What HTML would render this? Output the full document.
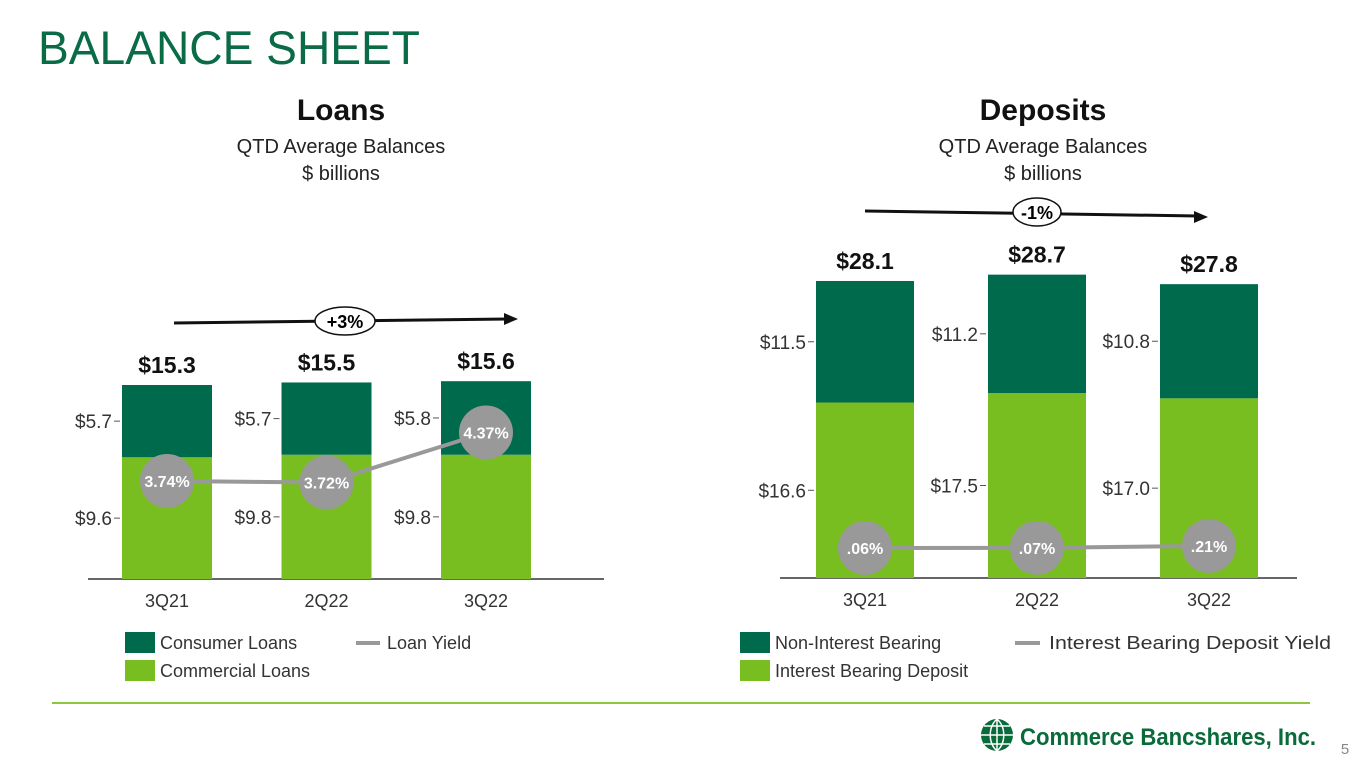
<!DOCTYPE html>
<html><head><meta charset="utf-8"><style>
body{margin:0;width:1365px;height:768px;overflow:hidden;background:#fff;font-family:"Liberation Sans",sans-serif}
svg text{font-family:"Liberation Sans",sans-serif}
</style></head><body>
<svg id="s" width="1365" height="768">
<text x="38" y="64" font-size="47" fill="#0a6b47" textLength="382" lengthAdjust="spacingAndGlyphs">BALANCE SHEET</text>
<text x="341" y="120" font-size="30" font-weight="bold" text-anchor="middle" fill="#111">Loans</text>
<text x="341" y="153" font-size="20" text-anchor="middle" fill="#222">QTD Average Balances</text>
<text x="341" y="180" font-size="20" text-anchor="middle" fill="#222">$ billions</text>
<text x="1043" y="120" font-size="30" font-weight="bold" text-anchor="middle" fill="#111">Deposits</text>
<text x="1043" y="153" font-size="20" text-anchor="middle" fill="#222">QTD Average Balances</text>
<text x="1043" y="180" font-size="20" text-anchor="middle" fill="#222">$ billions</text>
<g>
<line x1="174" y1="323" x2="508" y2="319" stroke="#111" stroke-width="3"/><polygon points="518,319 504,313 504,325" fill="#111"/>
<ellipse cx="345" cy="321" rx="30" ry="14" fill="#fff" stroke="#111" stroke-width="1.5"/>
<text x="345" y="328" font-size="18" font-weight="bold" text-anchor="middle">+3%</text></g>
<g>
<line x1="865" y1="211" x2="1198" y2="216" stroke="#111" stroke-width="3"/><polygon points="1208,217 1194,211 1194,223" fill="#111"/>
<ellipse cx="1037" cy="212" rx="24" ry="14" fill="#fff" stroke="#111" stroke-width="1.5"/>
<text x="1037" y="219" font-size="18" font-weight="bold" text-anchor="middle">-1%</text></g>
<g id="loans"></g>
<g id="deps"></g>
<g>
<rect x="125" y="632" width="30" height="21" fill="#006a4d"/><text x="160" y="649" font-size="18" fill="#333">Consumer Loans</text>
<rect x="125" y="660" width="30" height="21" fill="#78be20"/><text x="160" y="677" font-size="18" fill="#333">Commercial Loans</text>
<line x1="356" y1="643" x2="380" y2="643" stroke="#999" stroke-width="4"/><text x="387" y="649" font-size="18" fill="#333">Loan Yield</text></g>
<g>
<rect x="740" y="632" width="30" height="21" fill="#006a4d"/><text x="775" y="649" font-size="18" fill="#333">Non-Interest Bearing</text>
<rect x="740" y="660" width="30" height="21" fill="#78be20"/><text x="775" y="677" font-size="18" fill="#333">Interest Bearing Deposit</text>
<line x1="1015" y1="643" x2="1040" y2="643" stroke="#999" stroke-width="4"/><text x="1049" y="649" font-size="18" fill="#333" textLength="282" lengthAdjust="spacingAndGlyphs">Interest Bearing Deposit Yield</text></g>
<line x1="52" y1="703" x2="1310" y2="703" stroke="#8dc63f" stroke-width="2"/>
<g>
<circle cx="997" cy="735" r="16" fill="#0a6b3a"/>
<path d="M981 735h32M997 719v32M984 726h26M984 744h26M997 719c-9 8-9 24 0 32M997 719c9 8 9 24 0 32" stroke="#fff" stroke-width="1.5" fill="none"/>
<text x="1020" y="745" font-size="24" font-weight="bold" fill="#0a6b3a" textLength="296" lengthAdjust="spacingAndGlyphs">Commerce Bancshares, Inc.</text></g>
<text x="1345" y="754" font-size="15" fill="#888" text-anchor="middle">5</text>
</svg>
<script>
const loanCats=["3Q21","2Q22","3Q22"];
const loanCommercial=[9.6,9.8,9.8];
const loanConsumer=[5.7,5.7,5.8];
const loanTotals=["$15.3","$15.5","$15.6"];
const loanYield=[3.74,3.72,4.37];
const depCats=["3Q21","2Q22","3Q22"];
const depInterest=[16.6,17.5,17.0];
const depNonInterest=[11.5,11.2,10.8];
const depTotals=["$28.1","$28.7","$27.8"];
const depYield=[0.06,0.07,0.21];
const NS="http://www.w3.org/2000/svg";
function mk(p,t,a,txt){const e=document.createElementNS(NS,t);for(const k in a)e.setAttribute(k,a[k]);if(txt!=null)e.textContent=txt;p.appendChild(e);return e;}
function draw(g,o){
  const y=v=>o.base-v*o.scale, yy=v=>o.yBase-(v-o.yRef)*o.yScale;
  const ax=mk(g,'line',{x1:o.ax0,x2:o.ax1,y1:o.base,y2:o.base,stroke:'#333','stroke-width':1.5});
  
  
  const pts=[];
  o.cats.forEach((c,i)=>{
    const x=o.x0+i*o.step, a=o.lo[i], b=o.hi[i];
    const r1=mk(g,'rect',{x:x,y:y(a),width:o.w,height:a*o.scale,fill:'#78be20'});
    
    
    const r2=mk(g,'rect',{x:x,y:y(a+b),width:o.w,height:b*o.scale,fill:'#006a4d'});
    
    
    const t=mk(g,'text',{x:x+o.w/2,y:y(a+b)-12,'font-size':23,'font-weight':'bold','text-anchor':'middle',fill:'#111'},o.totals[i]);
    
    
    [[a/2,a],[a+b/2,b]].forEach(([m,v])=>{
      const l=mk(g,'text',{x:x-o.lblGap,y:y(m)+7,'font-size':19,'text-anchor':'end',fill:'#333'},'$'+v.toFixed(1));
      
      
      mk(g,'line',{x1:x-o.lblGap+2,x2:x-2,y1:y(m),y2:y(m),stroke:'#555','stroke-width':1});
    });
    const cl=mk(g,'text',{x:x+o.w/2,y:o.base+28,'font-size':18,'text-anchor':'middle',fill:'#333'},c);
    
    
    pts.push([x+o.w/2,yy(o.yv[i])]);
  });
  const pl=mk(g,'polyline',{points:pts.map(p=>p.join(',')).join(' '),fill:'none',stroke:'#999','stroke-width':4});
  
  
  pts.forEach((p,i)=>{
    const c=mk(g,'circle',{cx:p[0],cy:p[1],r:27,fill:'#999'});
    
    
    mk(g,'text',{x:p[0],y:p[1]+6,'font-size':16,'font-weight':'bold','text-anchor':'middle',fill:'#fff'},o.fmt(o.yv[i]));
  });
}
draw(document.getElementById('loans'),{cats:loanCats,lo:loanCommercial,hi:loanConsumer,totals:loanTotals,yv:loanYield,
 base:579,scale:12.68,x0:122,step:159.5,w:90,ax0:88,ax1:604,lblGap:10,yBase:481,yRef:3.74,yScale:77,
 loName:'commercial',hiName:'consumer',fmt:v=>v.toFixed(2)+'%'});
draw(document.getElementById('deps'),{cats:depCats,lo:depInterest,hi:depNonInterest,totals:depTotals,yv:depYield,
 base:578,scale:10.57,x0:816,step:172,w:98,ax0:780,ax1:1297,lblGap:10,yBase:548,yRef:0.06,yScale:14,
 loName:'interest-bearing',hiName:'non-interest-bearing',fmt:v=>v.toFixed(2).replace(/^0/,'')+'%'});
</script>
</body></html>
